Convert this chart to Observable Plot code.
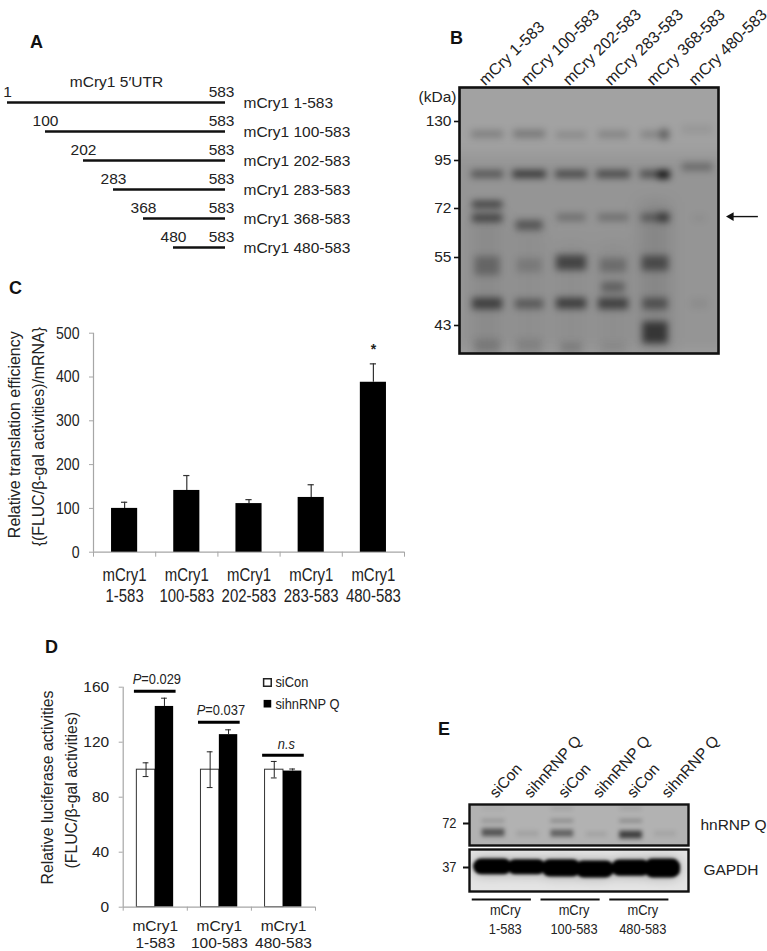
<!DOCTYPE html>
<html><head><meta charset="utf-8">
<script src="https://cdn.jsdelivr.net/npm/d3@7"></script>
<script src="https://cdn.jsdelivr.net/npm/@observablehq/plot@0.6"></script>
<style>
html,body{margin:0;background:#fff}
#page{position:relative;width:767px;height:951px;overflow:hidden}
#page svg{position:absolute;overflow:visible;background:transparent}
.letter{position:absolute;font:bold 18px "Liberation Sans",sans-serif;color:#111;line-height:18px}
</style></head><body><div id="page"></div>
<script>
// ---------- Panel A
const constructStarts = [1, 100, 202, 283, 368, 480];
const constructEnd = 583;
const constructNames = ["mCry1 1-583","mCry1 100-583","mCry1 202-583","mCry1 283-583","mCry1 368-583","mCry1 480-583"];

// ---------- Panel B : [lane, kDa upper edge, kDa lower edge, darkness, half width in lanes]
const laneNamesB = ["mCry 1-583","mCry 100-583","mCry 202-583","mCry 283-583","mCry 368-583","mCry 480-583"];
const kDaTicksB = [130, 95, 72, 55, 43];
const smearsB = [
 [2.4,100,39,.08,3.4],
 [0,70,39,.07,.38],[1,66,39,.05,.38],[2,60,39,.05,.38],[3,60,39,.05,.38],[4,75,39,.1,.36]
];
const bandsB = [
 [0,121.5,115,.22,.38],[1,122,115,.26,.38],[2,120,115,.18,.36],[3,121,115,.2,.36],[4,121,115,.2,.34],[4.22,123,113,.3,.1],[5,126,119,.07,.36],
 [0,90,86.6,.45,.38],[1,90,86.6,.68,.4],[2,90,86.6,.55,.38],[3,90,86.6,.55,.4],[4,90,86.6,.5,.36],[4.2,90,86,.85,.14],[5,93.5,90,.3,.36],
 [0,75.4,72,.58,.36],[0,70,67.2,.55,.36],[1,67.8,64.4,.42,.32],[2,70,67.6,.27,.34],[3,70,67.6,.27,.36],[4,70,67.4,.38,.34],[4.2,70.5,67,.38,.14],[5.05,69.5,67.5,.06,.15],
 [0,55.3,51.8,.27,.3],[1,54.8,52.3,.15,.3],[2,55.7,52.7,.52,.36],[3,54.8,52.3,.24,.32],[4,55.5,52.6,.46,.32],
 [3,50.6,48.8,.33,.28],
 [0,47.8,45.8,.55,.36],[1,47.6,45.9,.38,.34],[2,47.8,45.9,.57,.36],[3,47.8,45.8,.55,.36],[4,47.8,45.8,.42,.3],[5.05,47.6,46,.06,.2],
 [4,43.6,40.4,.6,.3],[0,41,39,.15,.3],[1,41,39,.1,.3],[2,40.5,39,.14,.25],[3,40.5,39,.06,.3]
];
const arrowKDa = 69.2;

// ---------- Panel C
const categoriesC = ["mCry1\n1-583","mCry1\n100-583","mCry1\n202-583","mCry1\n283-583","mCry1\n480-583"];
const efficiency = [100, 141, 111, 125, 388];
const efficiencyTop = [114, 175, 120, 154, 430];

// ---------- Panel D
const categoriesD = ["mCry1\n1-583","mCry1\n100-583","mCry1\n480-583"];
const siCon = [100, 100, 100];
const siConErr = [5, 13, 6];
const sihnRNP = [146, 125.5, 99];
const sihnRNPErr = [6, 3.5, 1.5];
const pLabels = ["=0.029","=0.037"];
const bracketValue = [157, 134.5, 110.5];

// ---------- Panel E
const laneNamesE = ["siCon","sihnRNP Q","siCon","sihnRNP Q","siCon","sihnRNP Q"];
const groupNamesE = ["mCry\n1-583","mCry\n100-583","mCry\n480-583"];
const bandsE1 = [
 [2,83,81,.1,.32],[4,83,81,.1,.32],[0,83,81,.05,.32],
 [0,74.5,72.5,.2,.33],[2,74.5,72.5,.27,.33],[4,74.5,72.5,.27,.33],
 [0,69.5,66,.52,.33],[2,69,65.8,.45,.33],[4,68.5,65,.65,.33],
 [1,68.5,66,.09,.32],[3,68,66,.09,.3],[5,68.5,66,.07,.32]
];
const bandsE2 = [
 [-0.02,39.8,35.2,1,.56],[0.97,39.6,35.2,1,.56],[1.98,39.6,34.6,1,.56],[2.95,39.2,34.4,1,.56],[4.0,39.5,34.8,1,.56],[4.92,39.8,34.4,1,.52]
];

// ---------- helpers
const page = document.getElementById("page");
const SANS = "Liberation Sans", NARROW = "'Liberation Sans', condensed-x";
const ink = "#222", axisGrey = "#a6a6a6";
function place(plot, left, top){
  plot.style.left = left+"px"; plot.style.top = top+"px"; page.appendChild(plot);
  // The source figure has horizontally squeezed Arial: no narrow face is installed, so squeeze the real text.
  plot.querySelectorAll("text").forEach(t=>{
    if(!getComputedStyle(t).fontFamily.includes("condensed-x")) return;
    const parts = t.querySelectorAll("tspan").length ? t.querySelectorAll("tspan") : [t];
    parts.forEach(p=>{
      p.setAttribute("textLength", (p.getComputedTextLength()*0.83).toFixed(2));
      p.setAttribute("lengthAdjust","spacingAndGlyphs");
    });
  });
}
function letter(t,left,top){ const d=document.createElement("div"); d.className="letter"; d.textContent=t; d.style.left=left+"px"; d.style.top=top+"px"; page.appendChild(d); }
const bandRect = (bands, blur, extra={}) => Plot.rect(bands, {
  x1:d=>d[0]-d[4], x2:d=>d[0]+d[4], y1:d=>d[1], y2:d=>d[2],
  fill:"#000", fillOpacity:d=>d[3], imageFilter:`blur(${blur}px)`, clip:"frame", ...extra
});

// ---------- A
const rowsA = constructStarts.map((s,i)=>({start:s,end:constructEnd,name:constructNames[i]}));
place(Plot.plot({
  width:400,height:250,margin:0,
  style:{fontFamily:SANS,color:ink},
  x:{type:"linear",domain:[1,100,202,283,368,480,583],range:[7,45,83,113,143,173,225],axis:null},
  y:{type:"point",domain:constructNames,range:[82,227],padding:0,axis:null},
  marks:[
    Plot.ruleY(rowsA,{x1:"start",x2:"end",y:"name",strokeWidth:2.6,stroke:"#111"}),
    Plot.text(rowsA,{x:"start",y:"name",text:d=>String(d.start),dy:-10,fontSize:15.5,fill:ink}),
    Plot.text(rowsA,{x:"end",y:"name",text:d=>String(d.end),dy:-10,dx:9,textAnchor:"end",fontSize:15.5,fill:ink}),
    Plot.text(rowsA,{x:"end",y:"name",text:"name",dx:18,dy:1,textAnchor:"start",fontSize:15.5,fill:ink}),
    Plot.text(["mCry1 5′UTR"],{x:()=>283,y:()=>constructNames[0],text:d=>d,dy:-20,dx:3,fontSize:15.5,fill:ink})
  ]
}),0,20);
letter("A",30,33);

// ---------- B
place(Plot.plot({
  width:357,height:333,marginLeft:49,marginRight:49,marginTop:67,marginBottom:0,
  style:{fontFamily:SANS,color:ink},
  x:{type:"linear",domain:[-0.67,5.5],axis:null},
  y:{type:"linear",domain:[160,130,95,72,55,43,39],range:[67,101,140,188,237,305,333],axis:null},
  marks:[
    Plot.frame({fill:"#a2a2a2"}),
    bandRect(smearsB,8),
    bandRect(bandsB,3.8),
    Plot.frame({stroke:"#111",strokeWidth:2.6}),
    Plot.axisY({ticks:kDaTicksB,tickSize:5,tickPadding:3,fontSize:15.5,label:null,stroke:"#111",strokeWidth:1.6,fill:ink}),
    Plot.text(["(kDa)"],{frameAnchor:"top-left",dx:-3,dy:10,lineAnchor:"middle",textAnchor:"end",fontSize:15.5,fill:ink}),
    Plot.text(laneNamesB,{x:(d,i)=>i,y:()=>160,text:d=>d,rotate:-44,textAnchor:"start",dx:-6,dy:-5,fontSize:16,fill:ink}),
    Plot.ruleY([arrowKDa],{x1:5.78,x2:6.45,stroke:"#111",strokeWidth:1.4}),
    Plot.dot([arrowKDa],{x:()=>5.8,y:d=>d,symbol:"triangle2",r:4.2,rotate:-90,fill:"#111"})
  ]
}),410,20);
letter("B",450,29);

// ---------- C
const rowsC = categoriesC.map((c,i)=>({i,c,v:efficiency[i],top:efficiencyTop[i]}));
place(Plot.plot({
  width:410,height:300,marginLeft:93,marginRight:6,marginTop:12.7,marginBottom:68.3,
  style:{fontFamily:NARROW,color:ink},
  x:{type:"linear",domain:[0,5],axis:null},
  y:{type:"linear",domain:[0,500],axis:null},
  marks:[
    Plot.ruleX([0],{stroke:axisGrey,strokeWidth:1.2}),
    Plot.ruleY([0],{stroke:axisGrey,strokeWidth:1.2}),
    Plot.axisY({ticks:[0,100,200,300,400,500],tickSize:4,tickPadding:10,fontSize:17,label:null,stroke:axisGrey,fill:ink}),
    Plot.axisX({ticks:[0,1,2,3,4,5],tickSize:5,tickFormat:()=>"",label:null,stroke:axisGrey}),
    Plot.rectY(rowsC,{x1:d=>d.i+.29,x2:d=>d.i+.71,y1:0,y2:"v",fill:"#000"}),
    Plot.ruleX(rowsC,{x:d=>d.i+.5,y1:"v",y2:"top",stroke:"#333",strokeWidth:1.2}),
    Plot.ruleY(rowsC,{x1:d=>d.i+.45,x2:d=>d.i+.55,y:"top",stroke:"#333",strokeWidth:1.2}),
    Plot.text(rowsC,{x:d=>d.i+.5,y:0,text:"c",lineAnchor:"top",dy:14,fontSize:18,lineHeight:1.17,fill:ink}),
    Plot.text(["*"],{x:()=>4.5,y:()=>430,text:d=>d,dy:-14,fontSize:14,fontWeight:"bold",fontFamily:SANS,fill:ink}),
    Plot.text(["Relative translation efficiency"],{frameAnchor:"left",textAnchor:"middle",dx:-79,dy:-8,rotate:-90,fontSize:16,fontFamily:SANS,fill:ink}),
    Plot.text(["{(FLUC/β-gal activities)/mRNA}"],{frameAnchor:"left",textAnchor:"middle",dx:-55,dy:-6,rotate:-90,fontSize:15.9,fontFamily:SANS,fill:ink})
  ]
}),0,320);
letter("C",9,279);

// ---------- D
const rowsD = categoriesD.map((c,i)=>({i,c,a:siCon[i],ae:siConErr[i],b:sihnRNP[i],be:sihnRNPErr[i],br:bracketValue[i]}));
const barW = .287, capW = .045, errStroke = "#222";
place(Plot.plot({
  width:360,height:311,marginLeft:122.7,marginRight:45,marginTop:46.7,marginBottom:44.3,
  style:{fontFamily:SANS,color:ink},
  x:{type:"linear",domain:[0,3],axis:null},
  y:{type:"linear",domain:[0,160],axis:null},
  marks:[
    Plot.ruleX([0],{stroke:axisGrey,strokeWidth:1.2}),
    Plot.axisY({ticks:[0,40,80,120,160],tickSize:4,tickPadding:10,fontSize:15.5,label:null,stroke:axisGrey,fill:ink}),
    Plot.axisX({ticks:[0,1,2,3],tickSize:4,tickFormat:()=>"",label:null,stroke:axisGrey}),
    Plot.rectY(rowsD,{x1:d=>d.i+.5-barW,x2:d=>d.i+.5,y1:0,y2:"a",fill:"#fff",stroke:"#333",strokeWidth:1}),
    Plot.rectY(rowsD,{x1:d=>d.i+.5,x2:d=>d.i+.5+barW,y1:0,y2:"b",fill:"#000"}),
    Plot.ruleY([0],{stroke:axisGrey,strokeWidth:1.2}),
    Plot.ruleX(rowsD,{x:d=>d.i+.5-barW/2,y1:d=>d.a-d.ae,y2:d=>d.a+d.ae,stroke:errStroke}),
    Plot.ruleY(rowsD,{x1:d=>d.i+.5-barW/2-capW,x2:d=>d.i+.5-barW/2+capW,y:d=>d.a+d.ae,stroke:errStroke}),
    Plot.ruleY(rowsD,{x1:d=>d.i+.5-barW/2-capW,x2:d=>d.i+.5-barW/2+capW,y:d=>d.a-d.ae,stroke:errStroke}),
    Plot.ruleX(rowsD,{x:d=>d.i+.5+barW/2,y1:"b",y2:d=>d.b+d.be,stroke:errStroke}),
    Plot.ruleY(rowsD,{x1:d=>d.i+.5+barW/2-capW,x2:d=>d.i+.5+barW/2+capW,y:d=>d.b+d.be,stroke:errStroke}),
    Plot.ruleY(rowsD,{x1:d=>d.i+.5-.325,x2:d=>d.i+.5+.325,y:"br",stroke:"#000",strokeWidth:3}),
    Plot.text(rowsD.slice(0,2),{x:d=>d.i+.5,y:"br",text:()=>"P",dx:-14,dy:-12,textAnchor:"end",fontStyle:"italic",fontSize:15.5,fontFamily:NARROW,fill:ink}),
    Plot.text(rowsD.slice(0,2),{x:d=>d.i+.5,y:"br",text:(d,i)=>pLabels[i],dx:-14,dy:-12,textAnchor:"start",fontSize:15.5,fontFamily:NARROW,fill:ink}),
    Plot.text(rowsD.slice(2),{x:d=>d.i+.5,y:"br",text:()=>"n.s",dx:3,dy:-11,fontStyle:"italic",fontSize:15.5,fontFamily:NARROW,fill:ink}),
    Plot.text(rowsD,{x:d=>d.i+.5,y:0,text:"c",lineAnchor:"top",dy:11,fontSize:15.5,lineHeight:1.12,fill:ink}),
    Plot.dot(["siCon"],{x:()=>2.25,y:()=>163.4,symbol:"square",r:4.3,fill:"#fff",stroke:"#222"}),
    Plot.dot(["sihnRNP Q"],{x:()=>2.25,y:()=>148,symbol:"square",r:4.3,fill:"#000"}),
    Plot.text(["siCon"],{x:()=>2.25,y:()=>163.4,text:d=>d,dx:8,textAnchor:"start",fontSize:15.5,fontFamily:NARROW,fill:ink}),
    Plot.text(["sihnRNP Q"],{x:()=>2.25,y:()=>148,text:d=>d,dx:8,textAnchor:"start",fontSize:15.5,fontFamily:NARROW,fill:ink}),
    Plot.text(["Relative luciferase activities"],{frameAnchor:"left",textAnchor:"middle",dx:-75,dy:-9.7,rotate:-90,fontSize:15.8,fill:ink}),
    Plot.text(["(FLUC/β-gal activities)"],{frameAnchor:"left",textAnchor:"middle",dx:-51,dy:-7,rotate:-90,fontSize:15.8,fill:ink})
  ]
}),0,640);
letter("D",45,638);

// ---------- E (upper blot)
place(Plot.plot({
  width:337,height:125,marginLeft:39,marginRight:79,marginTop:84,marginBottom:0,
  style:{fontFamily:SANS,color:ink},
  x:{type:"linear",domain:[-0.7,5.67],axis:null},
  y:{type:"linear",domain:[85,72,62],range:[84,103,125],axis:null},
  marks:[
    Plot.frame({fill:"#b2b2b2"}),
    bandRect(bandsE1,2),
    Plot.frame({stroke:"#111",strokeWidth:2.4}),
    Plot.axisY({ticks:[72],tickSize:6,tickPadding:7,fontSize:15.5,fontFamily:NARROW,label:null,stroke:"#111",strokeWidth:2,fill:ink}),
    Plot.text(laneNamesE,{x:(d,i)=>i,y:()=>85,text:d=>d,rotate:-48,textAnchor:"start",dx:-1,dy:-9,fontSize:15.5,fill:ink}),
    Plot.text(["hnRNP Q"],{frameAnchor:"right",dx:78,fontSize:15.5,fill:ink})
  ]
}),430,720);

// ---------- E (lower blot)
const groupsE = groupNamesE.map((g,i)=>({g,a:i*2,b:i*2+1}));
place(Plot.plot({
  width:337,height:102,marginLeft:39,marginRight:79,marginTop:0,marginBottom:60,
  style:{fontFamily:SANS,color:ink},
  x:{type:"linear",domain:[-0.7,5.67],axis:null},
  y:{type:"linear",domain:[43,37,31],range:[0,18,42],axis:null},
  marks:[
    Plot.frame({fill:"#e4e4e4"}),
    Plot.rect(bandsE2,{x1:d=>d[0]-d[4],x2:d=>d[0]+d[4],y1:d=>d[1],y2:d=>d[2],fill:"#000",fillOpacity:.3,rx:8,imageFilter:"blur(6px)",clip:"frame"}),
    bandRect(bandsE2,1.4,{rx:8}),
    Plot.frame({stroke:"#111",strokeWidth:2.4}),
    Plot.axisY({ticks:[37],tickSize:6,tickPadding:7,fontSize:15.5,fontFamily:NARROW,label:null,stroke:"#111",strokeWidth:2,fill:ink}),
    Plot.text(["GAPDH"],{frameAnchor:"right",dx:70,fontSize:15.5,fill:ink}),
    Plot.ruleY(groupsE,{x1:d=>d.a-.62,x2:d=>d.b+.1,y:()=>31,dy:8,stroke:"#111",strokeWidth:2}),
    Plot.text(groupsE,{x:d=>(d.a+d.b)/2-.16,y:()=>31,text:"g",lineAnchor:"top",dy:11,fontSize:15.5,lineHeight:1.17,fontFamily:NARROW,fill:ink})
  ]
}),430,849);
letter("E",438,720);
</script></body></html>
